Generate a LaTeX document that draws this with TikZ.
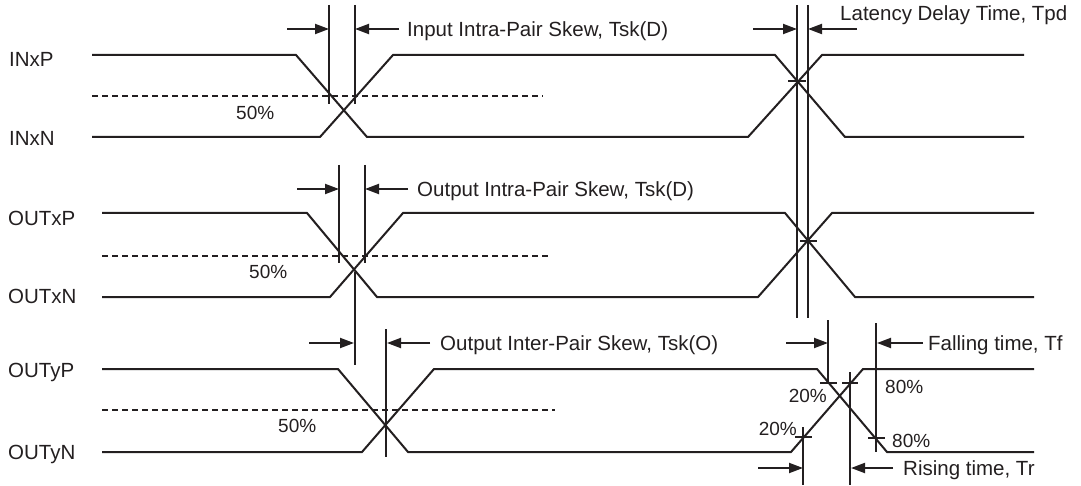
\documentclass[tikz,border=0pt]{standalone}
\usepackage{fontspec}
\setmainfont{Liberation Sans}
\usetikzlibrary{arrows.meta}
\definecolor{ink}{HTML}{231F20}
\begin{document}
\begin{tikzpicture}[x=1pt,y=-1pt,
 sig/.style={ink,line width=2pt,line join=miter},
 vline/.style={ink,line width=1.5pt},
 tickl/.style={ink,line width=1.3pt},
 dashline/.style={ink,line width=1.6pt,dash pattern=on 6pt off 4pt},
 dimarrow/.style={ink,line width=2pt,-{Triangle[length=14pt,width=10pt]}},
 lbl/.style={anchor=base west,inner sep=0pt,text=ink,font=\fontsize{20.5}{24}\selectfont},
 pct/.style={anchor=base west,inner sep=0pt,text=ink,font=\fontsize{19}{22}\selectfont},
 pcte/.style={anchor=base east,inner sep=0pt,text=ink,font=\fontsize{19}{22}\selectfont}]
\useasboundingbox (0,0) rectangle (1081,486);

% ---- signal labels
\node[lbl] (inxp) at (9,66.5) {INxP};
\node[lbl] (inxn) at (9,145.5) {INxN};
\node[lbl] (outxp) at (8,225.5) {OUTxP};
\node[lbl] (outxn) at (8,303.5) {OUTxN};
\node[lbl] (outyp) at (8,377.5) {OUTyP};
\node[lbl] (outyn) at (8,459.5) {OUTyN};

% ---- group 1 (INx)
\draw[sig] (92,55) -- (296,55) -- (367,137) -- (748,137) -- (822,55) -- (1024,55);
\draw[sig] (92,137) -- (320,137) -- (393,55) -- (775,55) -- (845,137) -- (1024,137);
\draw[dashline] (92,96) -- (543,96);
\node[pct] (p50a) at (236,120) {50\%};
\coordinate (m1a) at (329,5); \coordinate (m1a2) at (329,104);
\coordinate (m1b) at (355,5); \coordinate (m1b2) at (355,104);
\draw[vline] (m1a) -- (m1a2);
\draw[vline] (m1b) -- (m1b2);
\coordinate (a1s) at (287,29); \coordinate (a1e) at (329,29);
\coordinate (a2s) at (399,29); \coordinate (a2e) at (355,29);
\draw[dimarrow] (a1s) -- (a1e);
\draw[dimarrow] (a2s) -- (a2e);
\node[lbl] (l1) at (407,36.5) {Input Intra-Pair Skew, Tsk(D)};

% latency
\coordinate (la1) at (797,5); \coordinate (la12) at (797,318);
\coordinate (la2) at (808,5); \coordinate (la22) at (808,318);
\draw[vline] (la1) -- (la12);
\draw[vline] (la2) -- (la22);
\coordinate (b1s) at (753,29); \coordinate (b1e) at (797,29);
\coordinate (b2s) at (857,29); \coordinate (b2e) at (808,29);
\draw[dimarrow] (b1s) -- (b1e);
\draw[dimarrow] (b2s) -- (b2e);
\node[lbl] (l2) at (840,20.5) {Latency Delay Time, Tpd};
\draw[tickl] (788,81) -- (806,81);

% ---- group 2 (OUTx)
\draw[sig] (102,213) -- (307,213) -- (377,297) -- (758,297) -- (832,213) -- (1034,213);
\draw[sig] (102,297) -- (330,297) -- (403,213) -- (785,213) -- (855,297) -- (1034,297);
\draw[dashline] (102,256) -- (548,256);
\node[pct] (p50b) at (249,279) {50\%};
\coordinate (m2a) at (339,165); \coordinate (m2a2) at (339,263);
\coordinate (m2b) at (365,165); \coordinate (m2b2) at (365,263);
\draw[vline] (m2a) -- (m2a2);
\draw[vline] (m2b) -- (m2b2);
\coordinate (c1s) at (297,189); \coordinate (c1e) at (339,189);
\coordinate (c2s) at (408,189); \coordinate (c2e) at (365,189);
\draw[dimarrow] (c1s) -- (c1e);
\draw[dimarrow] (c2s) -- (c2e);
\node[lbl] (l3) at (417,196.5) {Output Intra-Pair Skew, Tsk(D)};
\draw[tickl] (800,241) -- (817,241);
\coordinate (x2a) at (355,272); \coordinate (x2b) at (355,365);
\draw[vline] (x2a) -- (x2b);

% ---- group 3 (OUTy)
\draw[sig] (102,369) -- (338,369) -- (408,452) -- (791,452) -- (863,369) -- (1034,369);
\draw[sig] (102,452) -- (362,452) -- (434,369) -- (817,369) -- (887,452) -- (1034,452);
\draw[dashline] (102,410) -- (555,410);
\node[pct] (p50c) at (278,432) {50\%};
\coordinate (x3a) at (386,329); \coordinate (x3b) at (386,457);
\draw[vline] (x3a) -- (x3b);
\coordinate (d1s) at (309,343); \coordinate (d1e) at (354,343);
\coordinate (d2s) at (430,343); \coordinate (d2e) at (387,343);
\draw[dimarrow] (d1s) -- (d1e);
\draw[dimarrow] (d2s) -- (d2e);
\node[lbl] (l4) at (440,350.5) {Output Inter-Pair Skew, Tsk(O)};

% falling time
\coordinate (f1) at (828,320); \coordinate (f12) at (828,383);
\coordinate (f2) at (876,323); \coordinate (f22) at (876,452);
\draw[vline] (f1) -- (f12);
\draw[vline] (f2) -- (f22);
\coordinate (e1s) at (786,343); \coordinate (e1e) at (828,343);
\coordinate (e2s) at (923,343); \coordinate (e2e) at (877,343);
\draw[dimarrow] (e1s) -- (e1e);
\draw[dimarrow] (e2s) -- (e2e);
\node[lbl] (l5) at (928,350.5) {Falling time, Tf};

% rising time
\coordinate (r1) at (803,427); \coordinate (r12) at (803,485);
\coordinate (r2) at (850,372); \coordinate (r22) at (850,485);
\draw[vline] (r1) -- (r12);
\draw[vline] (r2) -- (r22);
\coordinate (g1s) at (758,468); \coordinate (g1e) at (803,468);
\coordinate (g2s) at (893,468); \coordinate (g2e) at (851,468);
\draw[dimarrow] (g1s) -- (g1e);
\draw[dimarrow] (g2s) -- (g2e);
\node[lbl] (l6) at (903,475.5) {Rising time, Tr};

% 20/80 ticks
\draw[tickl] (820,383) -- (837,383);
\draw[tickl] (842,383) -- (858,383);
\draw[tickl] (795,437) -- (812,437);
\draw[tickl] (868,438) -- (885,438);
\node[pcte] (q20a) at (827,402) {20\%};
\node[pcte] (q20b) at (797,435) {20\%};
\node[pct] (q80a) at (885,393) {80\%};
\node[pct] (q80b) at (892,447) {80\%};
\end{tikzpicture}
\end{document}
